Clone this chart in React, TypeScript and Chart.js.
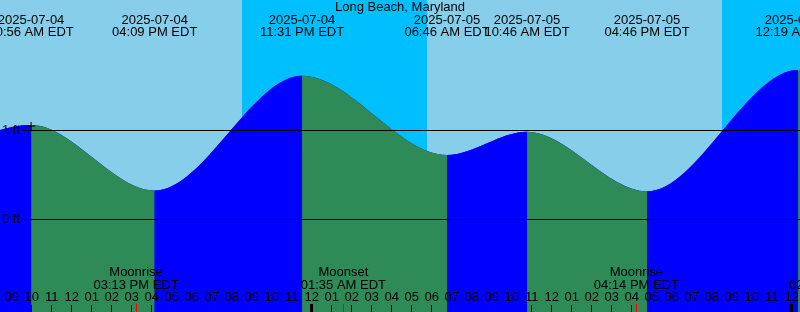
import React, { useEffect, useRef } from 'react';
import { Chart, registerables } from 'chart.js';

Chart.register(...registerables);

// ---- Data (hours measured from 2025-07-04 00:00 local time) ----
const viewStartHour = 8.415;
const viewEndHour = 48.415;
const feetMin = -1.045;
const feetMax = 2.461;

// Tide extremes (first and last are off-screen neighbours)
const tideHours = [3.8, 9.97, 16.15, 23.517, 30.767, 34.767, 40.767, 48.317, 54.5];
const tideFeet = [0.55, 1.056, 0.32, 1.61, 0.72, 0.98, 0.31, 1.674, 0.5];
const tideDates = ['', '2025-07-04', '2025-07-04', '2025-07-04', '2025-07-05', '2025-07-05', '2025-07-05', '2025-07-06', ''];
const tideTimes = ['', '10:56 AM EDT', '04:09 PM EDT', '11:31 PM EDT', '06:46 AM EDT', '10:46 AM EDT', '04:46 PM EDT', '12:19 AM EDT', ''];

const markerHour = [9.97];
const markerFeet = [1.045];

const nightStarts = [20.5, 44.5];
const nightEnds = [29.767, 53.8];

const moonHours = [15.217, 25.583, 40.233, 50.0];
const moonKinds = ['Moonrise', 'Moonset', 'Moonrise', 'Moonset'];
const moonTimes = ['03:13 PM EDT', '01:35 AM EDT', '04:14 PM EDT', '02:00 AM EDT'];

const tickHours = [9, 10, 11, 12, 13, 14, 15, 16, 17, 18, 19, 20, 21, 22, 23, 24, 25, 26, 27, 28, 29, 30, 31, 32, 33, 34, 35, 36, 37, 38, 39, 40, 41, 42, 43, 44, 45, 46, 47, 48];
const tickLabels = ['09', '10', '11', '12', '01', '02', '03', '04', '05', '06', '07', '08', '09', '10', '11', '12', '01', '02', '03', '04', '05', '06', '07', '08', '09', '10', '11', '12', '01', '02', '03', '04', '05', '06', '07', '08', '09', '10', '11', '12'];

const gridFeet = [1, 0];
const gridLabels = ['1 ft', '0 ft'];

const title = 'Long Beach, Maryland';

const SKY = '#87CEEB';
const NIGHT = '#00BFFF';
const RISING = '#0000FF';
const FALLING = '#2E8B57';
const FONT = '13px "Liberation Sans", Arial, sans-serif';

export default function App() {
  const ref = useRef<HTMLCanvasElement>(null);

  useEffect(() => {
    document.body.style.margin = '0';
    const canvas = ref.current;
    if (!canvas) return;

    const overlay = {
      id: 'tideOverlay',
      beforeDraw(chart: any) {
        const { ctx, chartArea } = chart;
        const xs = chart.scales.x;
        ctx.save();
        ctx.fillStyle = SKY;
        ctx.fillRect(chartArea.left, chartArea.top, chartArea.right - chartArea.left, chartArea.bottom - chartArea.top);
        ctx.fillStyle = NIGHT;
        nightStarts.forEach((s, i) => {
          const a = Math.round(xs.getPixelForValue(s));
          const b = Math.round(xs.getPixelForValue(nightEnds[i]));
          ctx.fillRect(a, chartArea.top, b - a, chartArea.bottom - chartArea.top);
        });
        ctx.restore();
      },
      afterDatasetsDraw(chart: any) {
        const { ctx, chartArea } = chart;
        const xs = chart.scales.x;
        const ys = chart.scales.y;
        ctx.save();
        ctx.font = FONT;
        ctx.textBaseline = 'middle';

        // horizontal reference lines
        gridFeet.forEach((f, i) => {
          const y = Math.round(ys.getPixelForValue(f)) + 0.5;
          ctx.strokeStyle = '#000';
          ctx.lineWidth = 1;
          ctx.beginPath();
          ctx.moveTo(22, y);
          ctx.lineTo(chartArea.right, y);
          ctx.stroke();
          ctx.fillStyle = '#000';
          ctx.textAlign = 'right';
          ctx.fillText(gridLabels[i], 20, y);
        });

        // title
        ctx.fillStyle = '#000';
        ctx.textAlign = 'center';
        ctx.fillText(title, (chartArea.left + chartArea.right) / 2, 7.5);

        // tide event labels
        tideHours.forEach((h, i) => {
          if (!tideDates[i]) return;
          const x = xs.getPixelForValue(h);
          ctx.fillText(tideDates[i], x, 20);
          ctx.fillText(tideTimes[i], x, 32);
        });

        // moon labels
        moonHours.forEach((h, i) => {
          const x = xs.getPixelForValue(h);
          ctx.fillStyle = '#000';
          ctx.fillText(moonKinds[i], x, 272.5);
          ctx.fillText(moonTimes[i], x, 285);
        });

        // hour ticks and labels
        tickHours.forEach((h, i) => {
          const x = xs.getPixelForValue(h);
          ctx.fillStyle = '#000';
          ctx.fillText(tickLabels[i], x, 297);
          if (h % 24 === 0) {
            ctx.fillRect(Math.floor(x) - 1, 304, 3, 8);
          } else {
            ctx.fillRect(Math.floor(x), 305, 1, 7);
          }
        });

        // red moon ticks
        ctx.fillStyle = '#FF0000';
        moonHours.forEach((h) => {
          const x = xs.getPixelForValue(h);
          ctx.fillRect(Math.floor(x), 304, 1, 8);
        });

        ctx.restore();
      },
    };

    const tidePoints = tideHours.map((h, i) => ({ x: h, y: tideFeet[i] }));

    const chart = new Chart(canvas, {
      type: 'line',
      data: {
        datasets: [
          {
            type: 'line',
            data: markerHour.map((h, i) => ({ x: h, y: markerFeet[i] })),
            showLine: false,
            pointStyle: 'cross',
            pointRadius: 4,
            pointBorderColor: '#000',
            pointBorderWidth: 1,
            borderColor: '#000',
            order: 0,
          } as any,
          {
            type: 'line',
            data: tidePoints,
            cubicInterpolationMode: 'monotone',
            capBezierPoints: false,
            fill: 'start',
            backgroundColor: RISING,
            borderColor: 'rgba(0,0,0,0)',
            borderWidth: 0,
            pointRadius: 0,
            segment: {
              backgroundColor: (c: any) => (c.p1.parsed.y > c.p0.parsed.y ? RISING : FALLING),
            },
            order: 1,
          } as any,
          {
            type: 'line',
            data: tidePoints,
            cubicInterpolationMode: 'monotone',
            capBezierPoints: false,
            fill: 'start',
            backgroundColor: RISING,
            borderColor: 'rgba(0,0,0,0)',
            borderWidth: 0,
            pointRadius: 0,
            order: 2,
          } as any,
        ],
      },
      options: {
        responsive: false,
        maintainAspectRatio: false,
        animation: false,
        devicePixelRatio: 1,
        events: [],
        layout: { padding: 0, autoPadding: false },
        plugins: {
          legend: { display: false },
          tooltip: { enabled: false },
          title: { display: false },
        },
        scales: {
          x: { type: 'linear', min: viewStartHour, max: viewEndHour, display: false },
          y: { type: 'linear', min: feetMin, max: feetMax, display: false },
        },
      },
      plugins: [overlay],
    });

    return () => chart.destroy();
  }, []);

  return (
    <div style={{ width: 800, height: 312 }}>
      <canvas ref={ref} width={800} height={312} style={{ display: 'block' }} />
    </div>
  );
}
